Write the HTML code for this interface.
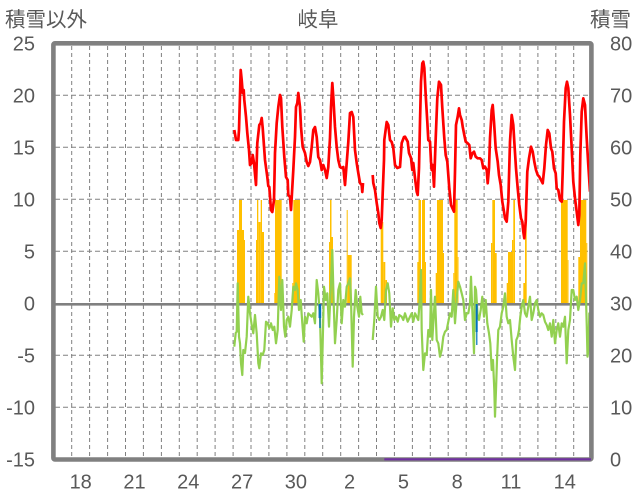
<!DOCTYPE html>
<html><head><meta charset="utf-8"><style>
html,body{margin:0;padding:0;background:#fff;}
svg{display:block;}
text{font-family:"Liberation Sans","Noto Sans CJK JP",sans-serif;fill:#595959;}
</style></head><body>
<svg width="636" height="501" viewBox="0 0 636 501" xmlns="http://www.w3.org/2000/svg">
<rect x="0" y="0" width="636" height="501" fill="#fff"/>
<text x="5" y="26.5" font-size="20.5">積雪以外</text>
<text x="318" y="26.5" font-size="20.5" text-anchor="middle">岐阜</text>
<text x="590" y="26.5" font-size="20.5">積雪</text>
<g stroke="#808080" stroke-width="1" stroke-dasharray="5,3">
<line x1="55" y1="95.3" x2="590" y2="95.3"/>
<line x1="55" y1="147.3" x2="590" y2="147.3"/>
<line x1="55" y1="199.3" x2="590" y2="199.3"/>
<line x1="55" y1="251.3" x2="590" y2="251.3"/>
<line x1="55" y1="355.3" x2="590" y2="355.3"/>
<line x1="55" y1="407.3" x2="590" y2="407.3"/>
</g>
<g stroke="#808080" stroke-width="1" stroke-dasharray="4,3">
<line x1="71.7" y1="46" x2="71.7" y2="457"/>
<line x1="89.6" y1="46" x2="89.6" y2="457"/>
<line x1="107.6" y1="46" x2="107.6" y2="457"/>
<line x1="125.5" y1="46" x2="125.5" y2="457"/>
<line x1="143.4" y1="46" x2="143.4" y2="457"/>
<line x1="161.4" y1="46" x2="161.4" y2="457"/>
<line x1="179.3" y1="46" x2="179.3" y2="457"/>
<line x1="197.2" y1="46" x2="197.2" y2="457"/>
<line x1="215.1" y1="46" x2="215.1" y2="457"/>
<line x1="233.1" y1="46" x2="233.1" y2="457"/>
<line x1="251.0" y1="46" x2="251.0" y2="457"/>
<line x1="268.9" y1="46" x2="268.9" y2="457"/>
<line x1="286.9" y1="46" x2="286.9" y2="457"/>
<line x1="304.8" y1="46" x2="304.8" y2="457"/>
<line x1="322.7" y1="46" x2="322.7" y2="457"/>
<line x1="340.7" y1="46" x2="340.7" y2="457"/>
<line x1="358.6" y1="46" x2="358.6" y2="457"/>
<line x1="376.5" y1="46" x2="376.5" y2="457"/>
<line x1="394.4" y1="46" x2="394.4" y2="457"/>
<line x1="412.4" y1="46" x2="412.4" y2="457"/>
<line x1="430.3" y1="46" x2="430.3" y2="457"/>
<line x1="448.2" y1="46" x2="448.2" y2="457"/>
<line x1="466.2" y1="46" x2="466.2" y2="457"/>
<line x1="484.1" y1="46" x2="484.1" y2="457"/>
<line x1="502.0" y1="46" x2="502.0" y2="457"/>
<line x1="520.0" y1="46" x2="520.0" y2="457"/>
<line x1="537.9" y1="46" x2="537.9" y2="457"/>
<line x1="555.8" y1="46" x2="555.8" y2="457"/>
<line x1="573.7" y1="46" x2="573.7" y2="457"/>
</g>
<g fill="#FFC000">
<rect x="237" y="230" width="2" height="74"/>
<rect x="239" y="200" width="3" height="104"/>
<rect x="242" y="230" width="2" height="74"/>
<rect x="244" y="240" width="1" height="64"/>
<rect x="256" y="240" width="1" height="64"/>
<rect x="257" y="200" width="1.3" height="104"/>
<rect x="258.3" y="222" width="2.4" height="82"/>
<rect x="260.7" y="200" width="1.3" height="104"/>
<rect x="262" y="232" width="2" height="72"/>
<rect x="274.3" y="293" width="0.7" height="11"/>
<rect x="275" y="200" width="6.7" height="104"/>
<rect x="292.3" y="283" width="1" height="21"/>
<rect x="293.3" y="200" width="6.7" height="104"/>
<rect x="329" y="242" width="1" height="62"/>
<rect x="330" y="200" width="1.5" height="104"/>
<rect x="331.5" y="237" width="1.5" height="67"/>
<rect x="346.7" y="210" width="1" height="94"/>
<rect x="347.7" y="255" width="4" height="49"/>
<rect x="380.7" y="222" width="2.6" height="82"/>
<rect x="383.3" y="262" width="2" height="42"/>
<rect x="385.3" y="280" width="1.7" height="24"/>
<rect x="417.3" y="262" width="1.2" height="42"/>
<rect x="418.5" y="200" width="2.5" height="104"/>
<rect x="422" y="200" width="3" height="104"/>
<rect x="425" y="262" width="1" height="42"/>
<rect x="435.7" y="273" width="1.3" height="31"/>
<rect x="437" y="200" width="6" height="104"/>
<rect x="443" y="253" width="1" height="51"/>
<rect x="453.3" y="273" width="1" height="31"/>
<rect x="454.3" y="200" width="3.4" height="104"/>
<rect x="457.7" y="257" width="0.8" height="47"/>
<rect x="491" y="243" width="1.3" height="61"/>
<rect x="492.3" y="200" width="2.7" height="104"/>
<rect x="495" y="253" width="1.7" height="51"/>
<rect x="506.7" y="283" width="1.3" height="21"/>
<rect x="508" y="252" width="4" height="52"/>
<rect x="512" y="240" width="1.3" height="64"/>
<rect x="513.3" y="200" width="1.7" height="104"/>
<rect x="523.3" y="283" width="1.7" height="21"/>
<rect x="525" y="200" width="1.7" height="104"/>
<rect x="561" y="200" width="6.7" height="104"/>
<rect x="567.7" y="260" width="0.8" height="44"/>
<rect x="578.3" y="257" width="1.7" height="47"/>
<rect x="580" y="200" width="6.3" height="104"/>
<rect x="586.3" y="243" width="1" height="61"/>
</g>
<line x1="53.5" y1="304.3" x2="591.5" y2="304.3" stroke="#808080" stroke-width="2.6"/>
<g fill="none" stroke="#92D050" stroke-width="2.2" stroke-linejoin="round">
<polyline points="234.3,346.7 235.7,333 236.7,331.7 237.7,283.3 239,336.7 240,343.3 241,363.3 242.3,375 243.3,350 245,353 246.7,336.7 248.3,296.7 250,313.3 251.7,325 253.3,333.3 255,315 256.7,333.3 258.3,363.3 259.3,368.3 261,353.3 262.7,355 264.3,350 266,321.7 267.7,323.3 269.3,328.3 271,323.3 272.7,330 274.3,326.7 276,343.3 277.7,330 279.3,276.7 281,310 282.3,280 284,326.7 285.3,336.7 286.7,320 288.3,316.7 290,326.7 291.7,310 293.3,286.7 295,290 296,283.3 297.7,290 299,310 300.7,300 302.3,323.3 303.7,341.7 305,316.7 306.7,323.3 308.3,313.3 310,315 311.7,316.7 313.3,313.3 315,323.3 316.7,280 318.3,293.3 320,316.7 321.7,383.3 322.7,343.3 324,286.7 325.7,300 327.3,293.3 329,326.7 330.7,290 332.3,250 333.7,303.3 335,343.3 336.7,320 338.3,290 340,283.3 341.7,323.3 343.3,300 345,306.7 346.7,286.7 348.3,283.3 350,278.3 351,300 352.7,366.7 354,316.7 355.7,290 357.3,306.7 359,316.7 360.3,296.7 361.7,313.3 363,315"/>
<polyline points="372.7,340 374.3,320 376,286.7 377.7,316.7 379.3,320 381,316.7 382.7,310 384.3,320 386,290 387.7,283.3 389.3,293.3 391,326.7 392.7,308.3 394.3,320 396,316.7 397.7,321.7 399.3,315 401.7,316.7 403.3,320 405,313.3 407.7,321.7 410,316.7 411.7,313.3 413.3,321.7 415,313.3 416.7,316.7 418.3,320 420,296.7 421,270 421.7,330 423.3,370 425,353.3 426.7,355 428.3,330 430,336.7 431,290 432.3,340 433.7,316.7 435,296.7 436.7,340 438.3,343.3 440,356.7 441.7,350 443.3,336.7 445,331.7 446.7,330 448.3,321.7 450,313.3 451.7,316.7 453.3,290 455,323.3 456.7,300 458.3,281.7 460,286.7 461.7,293.3 463.3,300 465,320 466.7,313.3 468.3,313.3 470,303.3 471,276.7 472.7,320 474,353.3 475,286.7 476,290 477.7,316.7 479,320 480.7,310 482.3,296.7 484,316.7 485.7,300 487.3,323.3 489,333.3 490.3,343.3 491.7,370 493,360 494.3,390 495,416.7 496,390 497,360 498.3,330 500,326.7 501.7,313.3 503.3,306.7 505,293.3 506.7,316.7 508.3,323.3 510,320 511.7,340 513.3,356.7 515,370 516.3,340 517.7,336.7 519,330 520.3,316.7 521.7,306.7 523.3,300 525,313.3 526.7,316.7 528.3,306.7 530,296.7 531.7,320 533.3,313.3 535,303.3 536.7,300 538.3,310 540,316.7 541.7,313.3 543.3,315 545,321.7 546.7,325 548.3,330 550,323.3 551.7,336.7 553.3,320 555,343.3 556.7,330 558.3,323.3 560,336.7 561.7,323.3 563.3,326.7 565,316.7 566.7,363.3 568.3,330 570,320 571.7,290 573.3,290 575,300 576.7,296.7 578.3,310 580,300 581.7,283.3 583.3,283.3 585,263.3 586.7,323.3 587.5,356.7 588.5,350 589.3,313.3 590.7,316.7"/>
</g>
<g fill="#0070C0">
<rect x="318.6" y="304" width="2.6" height="14"/>
<rect x="319.3" y="316" width="1.4" height="12"/>
<rect x="475.7" y="304" width="2" height="28"/>
<rect x="476.2" y="330" width="1.2" height="15"/>
</g>
<g fill="none" stroke="#FF0000" stroke-width="2.7" stroke-linejoin="round">
<polyline points="234.3,130 236,140 238.3,140 239,130 240.7,70 241.7,80 242.7,93 243.7,90 244.3,100 246,116.7 247.3,133 249,150 250,165 251.7,163 252.7,155 254,163 256,185 257.3,143 259.3,125 260.7,123 261.7,118 262.7,128 265,160 267.3,177 268.3,186 269.3,187 271,210 272.3,212 274,200 275,153 276.7,123 278.3,107 280,95 281,98 282.3,127 284.3,157 286,177 287.7,180 288.3,195 290,197 291,210 293.3,170 295,137 296,107 297.3,103 298.3,93 300,107 301,127 302.7,147 305,153 306.7,162 308.3,166 310,162 311.7,147 313.3,130 315,127 316.7,137 318.3,157 320,160 321.7,170 323.3,165 325,170 326.7,178 328.3,167 330,138 331,107 332.3,83 333.3,97 335,127 336.7,147 338.3,160 340,167 341.7,168 343.3,167 345,185 346.7,163 348.3,142 350,113 351.7,112 353.3,117 355,150 356.7,163 358.3,173 360,183 361.7,185 362.3,192 363,183"/>
<polyline points="372.7,175 373.3,183 375,190 376.7,203 378.3,213 379.3,223 380.7,228 381.7,220 382.7,193 384,160 384.3,140 386.7,122 388.3,125 390,140 391.7,142 393.3,148 395,165 397.3,168 400,167 401.7,143 404,137 405,136.7 407.7,141.7 409,153 411,158 412.3,170 413.3,163 415,178 416.7,191.7 417.7,195 419,168 420,122 421,81.7 422.3,63.3 423.3,61.7 424.3,68 425.7,95 427.3,121.7 428.3,140 430,141.7 431,161.7 431.7,170 432.7,165 434,186.7 435.7,138.3 437.3,98.3 439,81.7 441,85 442.3,108 444.3,138.3 445.7,155 447.3,161.7 449.3,188.3 451,205 452.3,208 454,211.7 455,171.7 456,125 457.7,116.7 459,108.3 460,115 461.7,120 462.7,126.7 464.3,135 465.7,141.7 467.7,143.3 469.3,145 470.7,158.3 472.3,153.3 474,151.7 475.7,156.7 477.7,158.3 480,158.3 481.7,160 483.3,168.3 485,166.7 486.7,170 487.7,183.3 489,168.3 490,138.3 491.7,110 492.7,105 494,121.7 495.7,148.3 497.7,161.7 499,175 500.7,185 502.3,201.7 504,211.7 505,218.3 506.7,221.7 508.3,201.7 510,141.7 511.7,115 513.3,125 514.3,141.7 516,168.3 517.7,188.3 519.3,205 521,218.3 522.3,221.7 523.3,231.7 524.3,238.3 525.7,221.7 527.3,171.7 529,158.3 531,146.7 532.7,151.7 534.3,161.7 536,170 537.7,175 539.3,176.7 541,180 542.7,183.3 544.3,168.3 546,145 547.7,130 549.3,133.3 551,148.3 552.3,151.7 554,168.3 555.7,173.3 556.7,188.3 558.3,190 560,200 561.7,201.7 562.7,171.7 564,121.7 565.7,88.3 567,81.7 568.3,88.3 570,115 571.7,148.3 573.3,181.7 575,198.3 576.7,211.7 578.3,225 579.3,215 580.3,155 581.7,111.7 583.3,98.3 585,105 586.7,138.3 588.3,165 590,191.7"/>
</g>
<rect x="53.4" y="43.3" width="538" height="416.2" fill="none" stroke="#808080" stroke-width="4.6" rx="1.5"/>
<line x1="384.3" y1="459.3" x2="591" y2="459.3" stroke="#7030A0" stroke-width="2.2"/>
<g font-size="20" text-anchor="end">
<text x="35" y="50.5">25</text>
<text x="35" y="102.5">20</text>
<text x="35" y="154.5">15</text>
<text x="35" y="206.5">10</text>
<text x="35" y="258.5">5</text>
<text x="35" y="310.5">0</text>
<text x="35" y="362.5">-5</text>
<text x="35" y="414.5">-10</text>
<text x="35" y="466.5">-15</text>
</g>
<g font-size="20">
<text x="610" y="50.5">80</text>
<text x="610" y="102.5">70</text>
<text x="610" y="154.5">60</text>
<text x="610" y="206.5">50</text>
<text x="610" y="258.5">40</text>
<text x="610" y="310.5">30</text>
<text x="610" y="362.5">20</text>
<text x="610" y="414.5">10</text>
<text x="610" y="466.5">0</text>
</g>
<g font-size="20" text-anchor="middle">
<text x="80.7" y="488.5">18</text>
<text x="134.5" y="488.5">21</text>
<text x="188.3" y="488.5">24</text>
<text x="242.1" y="488.5">27</text>
<text x="295.9" y="488.5">30</text>
<text x="349.6" y="488.5">2</text>
<text x="403.4" y="488.5">5</text>
<text x="457.2" y="488.5">8</text>
<text x="511.0" y="488.5">11</text>
<text x="564.8" y="488.5">14</text>
</g>
</svg>
</body></html>
